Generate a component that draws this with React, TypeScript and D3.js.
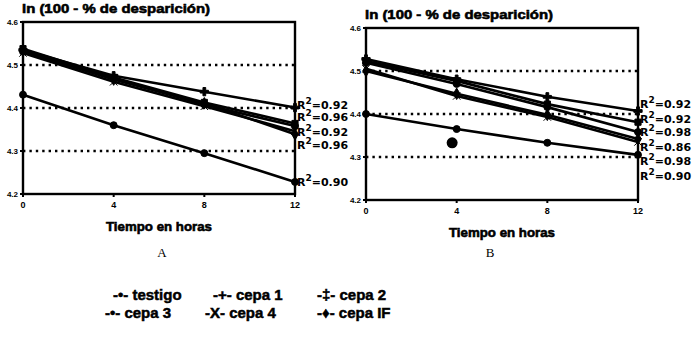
import * as d3 from "d3";

// horas de muestreo y ejes
const hours = [0, 4, 8, 12];
const yTicks = [4.2, 4.3, 4.4, 4.5, 4.6];
const seriesNames = ["testigo", "cepa 1", "cepa 2", "cepa 3", "cepa 4", "cepa IF"];
const legendGlyphs = ["-•-", "-+-", "-‡-", "-•-", "-X-", "-♦-"];

// panel A: ln(100 - % desaparición)
const testigoA = [4.431, 4.36, 4.295, 4.228];
const cepa1A = [4.535, 4.475, 4.438, 4.401];
const cepa2A = [4.538, 4.471, 4.413, 4.364];
const cepa3A = [4.531, 4.468, 4.408, 4.358];
const cepa4A = [4.528, 4.461, 4.404, 4.346];
const cepaIFA = [4.533, 4.466, 4.411, 4.339];
const r2A = [0.92, 0.96, 0.92, 0.96, 0.9];
const r2PosA = [4.408, 4.378, 4.344, 4.314, 4.228];

// panel B
const testigoB = [4.4, 4.365, 4.333, 4.305];
const cepa1B = [4.528, 4.481, 4.44, 4.407];
const cepa2B = [4.523, 4.477, 4.423, 4.381];
const cepa3B = [4.519, 4.47, 4.416, 4.358];
const cepa4B = [4.505, 4.442, 4.393, 4.335];
const cepaIFB = [4.5, 4.447, 4.398, 4.342];
const outlierB = [{ hour: 3.8, value: 4.333 }];
const r2B = [0.92, 0.92, 0.98, 0.86, 0.98, 0.9];
const r2PosB = [4.423, 4.388, 4.358, 4.323, 4.291, 4.256];

const symbols = [
  d3.symbolCircle,
  d3.symbolCross,
  d3.symbolSquare,
  d3.symbolCircle,
  d3.symbolTimes || d3.symbolCross,
  d3.symbolDiamond,
];

type PanelProps = {
  left: number;
  top: number;
  series: number[][];
  r2: number[];
  r2Pos: number[];
  outliers?: { hour: number; value: number }[];
};

function Panel({ left, top, series, r2, r2Pos, outliers = [] }: PanelProps) {
  const w = 272, h = 172;
  const x = d3.scaleLinear().domain([0, 12]).range([0, w]);
  const y = d3.scaleLinear().domain([4.2, 4.6]).range([h, 0]);
  const line = d3.line<number>().x((_, i) => x(hours[i])).y((d) => y(d));
  const bold = { fontFamily: "Liberation Sans, Arial, sans-serif", fontWeight: 900 };

  return (
    <g transform={`translate(${left},${top})`}>
      <text x={-1} y={-9} fontSize={13} {...bold} textLength={188} lengthAdjust="spacingAndGlyphs"
        stroke="#000" strokeWidth={0.6}>
        ln (100 - % de desparición)
      </text>
      {yTicks.slice(1, -1).map((t) => (
        <line key={t} x1={0} x2={w} y1={y(t)} y2={y(t)} stroke="#000" strokeWidth={2.4}
          strokeDasharray="2.4 4" />
      ))}
      {series.map((s, i) => (
        <path key={i} d={line(s) || ""} fill="none" stroke="#000" strokeWidth={2.6} />
      ))}
      {series.map((s, i) =>
        s.map((v, j) => (
          <path key={`${i}-${j}`} transform={`translate(${x(hours[j])},${y(v)})`}
            d={d3.symbol(symbols[i], 38)() || ""} fill="#000" stroke="#000" strokeWidth={1} />
        ))
      )}
      {outliers.map((o, i) => (
        <circle key={i} cx={x(o.hour)} cy={y(o.value)} r={5.5} fill="#000" />
      ))}
      <rect x={0} y={0} width={w} height={h} fill="none" stroke="#000" strokeWidth={2.4} />
      {yTicks.map((t) => (
        <g key={t} transform={`translate(0,${y(t)})`}>
          <line x1={-3} x2={0} stroke="#000" strokeWidth={2} />
          <text x={-5} dy="0.35em" textAnchor="end" fontSize={8} {...bold}>{t.toFixed(1)}</text>
        </g>
      ))}
      {hours.map((t) => (
        <g key={t} transform={`translate(${x(t)},${h})`}>
          <line y1={0} y2={3} stroke="#000" strokeWidth={2} />
          <text y={14} textAnchor="middle" fontSize={9} {...bold}>{t}</text>
        </g>
      ))}
      <text x={w / 2} y={h + 37} textAnchor="middle" fontSize={13} {...bold}
        textLength={106} lengthAdjust="spacingAndGlyphs" stroke="#000" strokeWidth={0.6}>
        Tiempo en horas
      </text>
      {r2.map((v, i) => (
        <text key={i} x={w + 2} y={y(r2Pos[i]) + 4} fontSize={11}
          fontFamily="DejaVu Sans, sans-serif" fontWeight="bold">
          R<tspan dy={-5} fontSize={9}>2</tspan><tspan dy={5}>={v.toFixed(2)}</tspan>
        </text>
      ))}
    </g>
  );
}

export default function App() {
  const bold = { fontFamily: "Liberation Sans, Arial, sans-serif", fontWeight: 900 };
  const legendX = [113, 213, 317];
  const legendY = [300, 318];
  return (
    <svg width={693} height={337} style={{ position: "absolute", left: 0, top: 0, background: "#fff" }}>
      <Panel left={23} top={22} series={[testigoA, cepa1A, cepa2A, cepa3A, cepa4A, cepaIFA]}
        r2={r2A} r2Pos={r2PosA} />
      <Panel left={366} top={28} series={[testigoB, cepa1B, cepa2B, cepa3B, cepa4B, cepaIFB]}
        r2={r2B} r2Pos={r2PosB} outliers={outlierB} />
      <text x={162} y={257} textAnchor="middle" fontSize={13} fontFamily="Liberation Serif, serif">A</text>
      <text x={490} y={257} textAnchor="middle" fontSize={13} fontFamily="Liberation Serif, serif">B</text>
      {seriesNames.map((n, i) => (
        <text key={n} x={legendX[i % 3] - (i >= 3 && i % 3 < 2 ? 8 : 0)} y={legendY[Math.floor(i / 3)]}
          fontSize={15} {...bold} stroke="#000" strokeWidth={0.5}>
          {legendGlyphs[i]} {n}
        </text>
      ))}
    </svg>
  );
}
